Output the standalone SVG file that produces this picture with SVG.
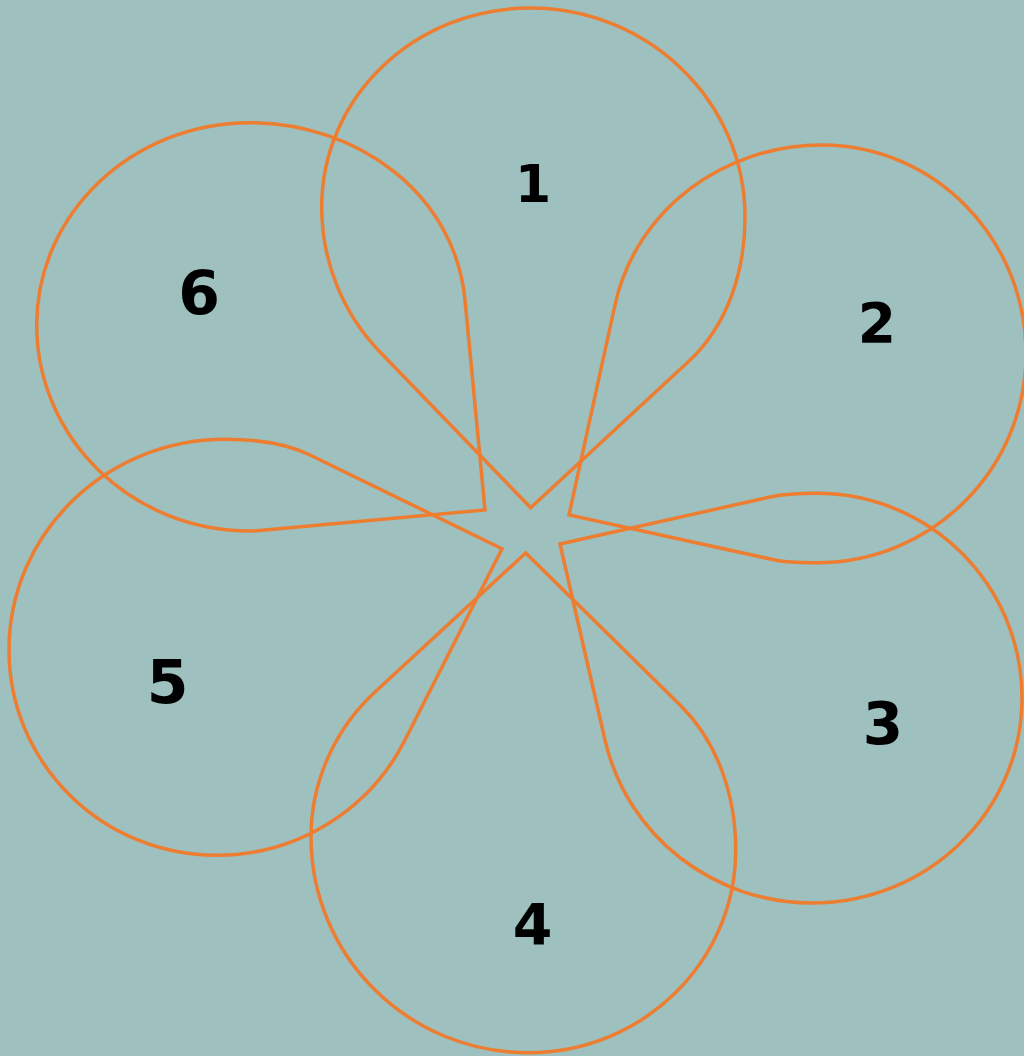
<svg xmlns="http://www.w3.org/2000/svg" width="1024" height="1056" viewBox="0 0 1024 1056">
<style>
.petal{fill:none;stroke:#ED7D31;stroke-width:3.5;stroke-linejoin:miter}
.lbl{font-family:"DejaVu Sans","Liberation Sans",sans-serif;font-weight:bold;fill:#000;text-anchor:middle}
</style>
<rect width="1024" height="1056" fill="#9EC0BF"/>
<g id="connectors"/>
<g id="node-1">
<path class="petal" d="M530.7,507.7 L380,352 C342.4,313.1 321.7,261.1 321.7,207 C321.7,97 415,8 530,8 C648.7,8 745,101.6 745,217 C745,271.2 727.8,325.2 688,362 Z"/>
<text class="lbl" x="533" y="202" font-size="52">1</text>
</g>
<g id="node-2">
<path class="petal" d="M569,515 L615,305 C635.9,209.4 723.8,145 821.7,145 C934.5,145 1026,238.6 1026,354 C1026,469.3 932.3,562.7 816.7,562.7 C802.7,562.7 788.7,563 775,560 Z"/>
<text class="lbl" x="877" y="342" font-size="55">2</text>
</g>
<g id="node-3">
<path class="petal" d="M560,544 L770,497 C785.2,493.6 801.1,493.3 816.7,493.3 C930.1,493.3 1022,584.9 1022,698 C1022,811.2 928,903 812,903 C713.5,903 627,836 605,740 Z"/>
<text class="lbl" x="883" y="744" font-size="58">3</text>
</g>
<g id="node-4">
<path class="petal" d="M525.7,553 L375,692 C334.6,729.3 311,782 311,837 C311,956.1 408.2,1052.7 528,1052.7 C642.7,1052.7 735.7,962 735.7,850 C735.7,796.2 718.3,742.8 680,705 Z"/>
<text class="lbl" x="532.7" y="945" font-size="57">4</text>
</g>
<g id="node-5">
<path class="petal" d="M502,548.7 L310,455 C283.8,442.2 254.2,439.3 225,439.3 C105.7,439.3 9,533.6 9,650 C9,763.4 102,855.3 216.7,855.3 C296.2,855.3 369.1,810.9 405,740 Z"/>
<text class="lbl" x="167.7" y="703" font-size="60">5</text>
</g>
<g id="node-6">
<path class="petal" d="M485,510 L465,300 C454.9,193.7 356.8,122.7 250,122.7 C132.2,122.7 36.7,213.3 36.7,325 C36.7,438.8 132.2,531 250,531 C255,531 260,530.5 265,530 Z"/>
<text class="lbl" x="199" y="314" font-size="60">6</text>
</g>
</svg>
